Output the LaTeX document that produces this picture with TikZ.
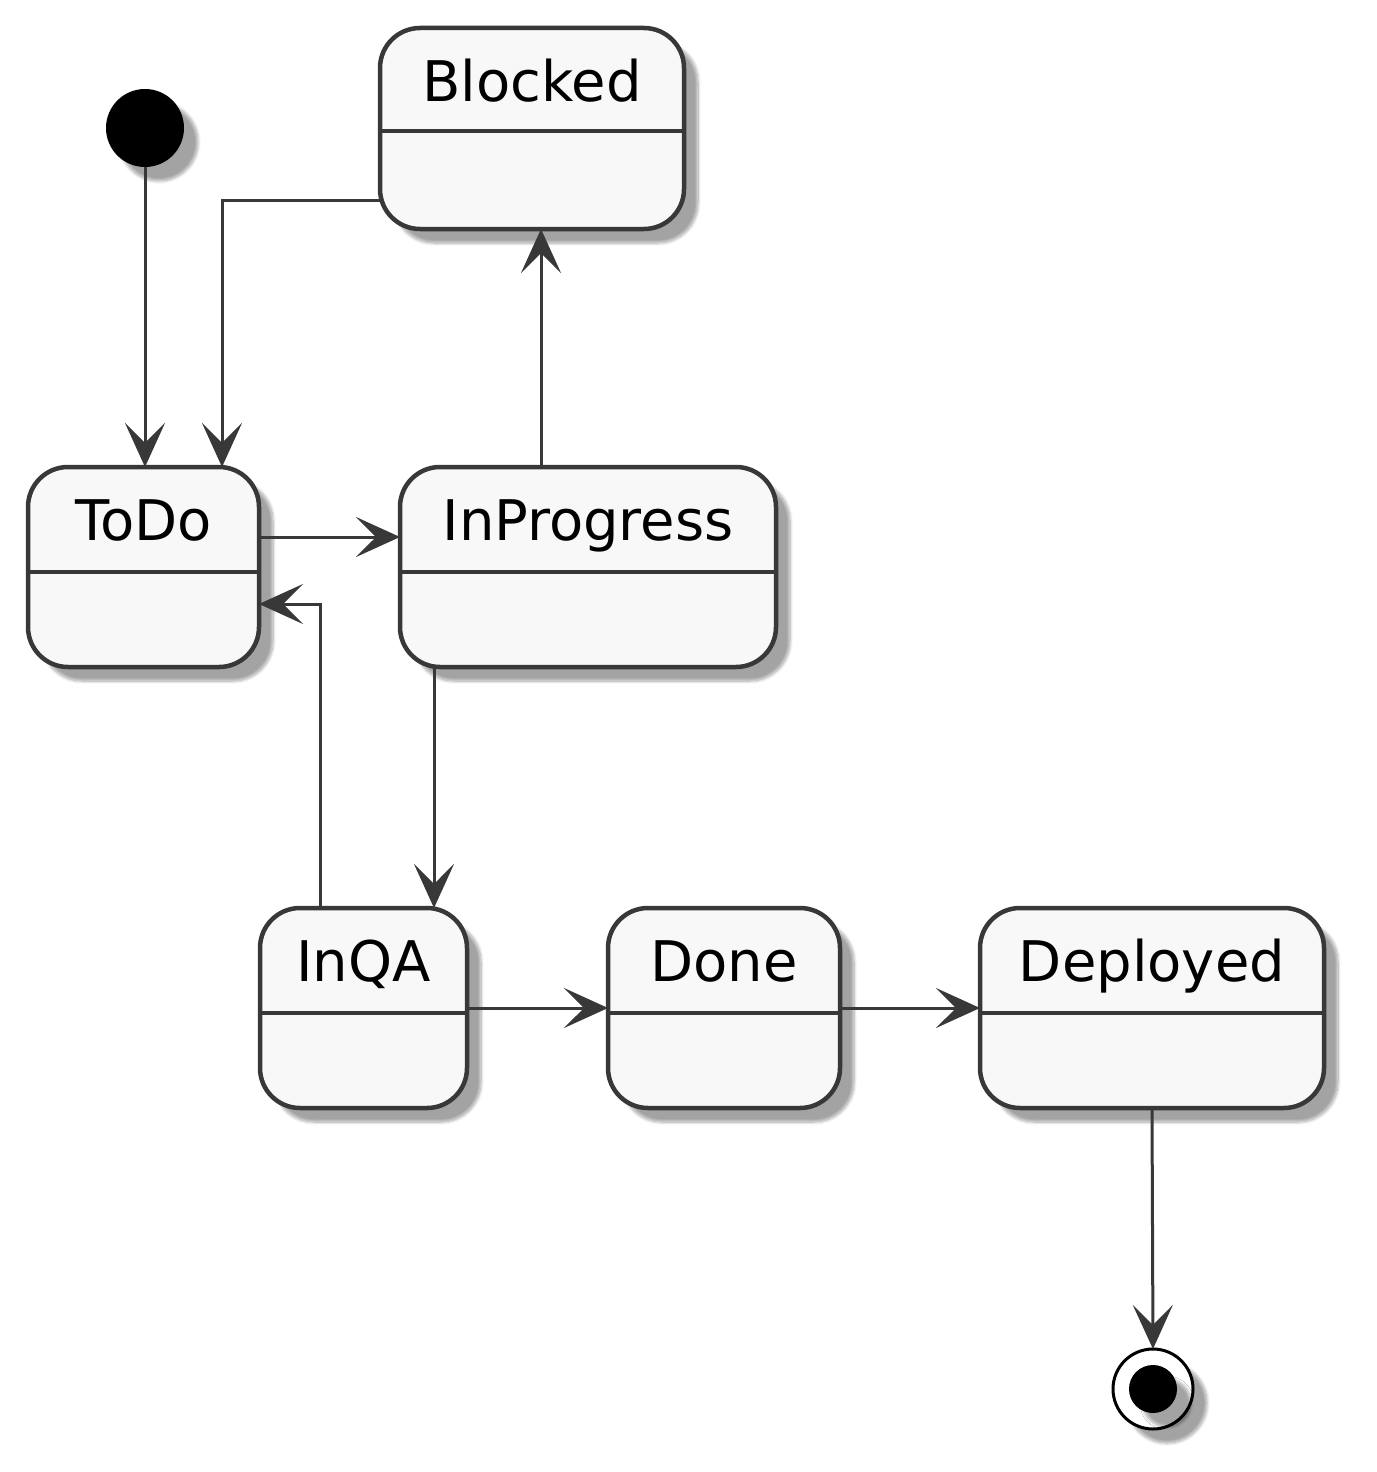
\documentclass[tikz,border=0pt]{standalone}
\usepackage{fontspec}
\setmainfont{DejaVu Sans}
\usetikzlibrary{arrows.meta,shadows.blur}
\definecolor{lc}{HTML}{383838}
\definecolor{bf}{HTML}{F8F8F8}
\tikzset{
  shd/.style={blur shadow={shadow xshift=14pt,shadow yshift=-14pt,shadow blur radius=3pt,shadow opacity=36,shadow blur steps=8}},
  statebox/.style={draw=lc,line width=4.5pt,fill=bf,rounded corners=40pt,minimum height=200pt,outer sep=0pt,inner sep=0pt,shd},
  ttl/.style={anchor=base,font=\fontsize{56}{66}\selectfont,text=black,inner sep=0pt},
  divl/.style={draw=lc,line width=4pt},
  arr/.style={draw=lc,line width=3pt,-{Stealth[length=44pt,width=40pt,inset=20pt]}},
}
\newcommand{\statenode}[4]{%
  \node[statebox,minimum width=#3] (#1) at #2 {};
  \node[ttl] (#1t) at ([yshift=-73pt]#1.north) {#4};
  \draw[divl] ([yshift=-105pt]#1.north west) -- ([yshift=-105pt]#1.north east);
}
\begin{document}
\begin{tikzpicture}[x=1pt,y=-1pt]
\useasboundingbox (0,0) rectangle (1376,1472);
% start
\node[circle,fill=black,minimum size=78pt,inner sep=0pt,outer sep=0pt,shd] (start) at (145,128) {};
% states
\node[statebox,minimum width=304pt,minimum height=201pt] (blocked) at (532,128.5) {};
\node[ttl] (blockedt) at ([yshift=-73pt]blocked.north) {Blocked};
\draw[divl] ([yshift=-103pt]blocked.north west) -- ([yshift=-103pt]blocked.north east);
\statenode{todo}{(143.5,567)}{231pt}{ToDo}
\statenode{inprog}{(588,567)}{376pt}{InProgress}
\statenode{inqa}{(363.5,1008)}{207pt}{InQA}
\statenode{done}{(724,1008)}{232pt}{Done}
\statenode{deployed}{(1152,1008)}{344pt}{Deployed}
% end
\node[circle,draw=black,line width=3pt,fill=white,minimum size=80pt,inner sep=0pt,outer sep=0pt,shd] (end) at (1153,1389) {};
\node[circle,fill=black,minimum size=48pt,inner sep=0pt,outer sep=0pt,shd] (endin) at (end) {};
% connectors
\draw[arr] (start.south) -- (start.south |- todo.north);
\draw[arr] ([yshift=-71.5pt]blocked.west) -| ([xshift=78.5pt]todo.north);
\draw[arr] ([yshift=30pt]todo.east) -- ([yshift=30pt]inprog.west);
\draw[arr] ([xshift=-47pt]inprog.north) -- ([xshift=-47pt]inprog.north |- blocked.south);
\draw[arr] ([xshift=-154pt]inprog.south) -- ([xshift=-154pt]inprog.south |- inqa.north);
\draw[arr] ([xshift=-43.5pt]inqa.north) |- ([yshift=-37pt]todo.east);
\draw[arr] (inqa.east) -- (done.west);
\draw[arr] (done.east) -- (deployed.west);
\draw[arr] (deployed.south) -- (end.north);
\end{tikzpicture}
\end{document}
